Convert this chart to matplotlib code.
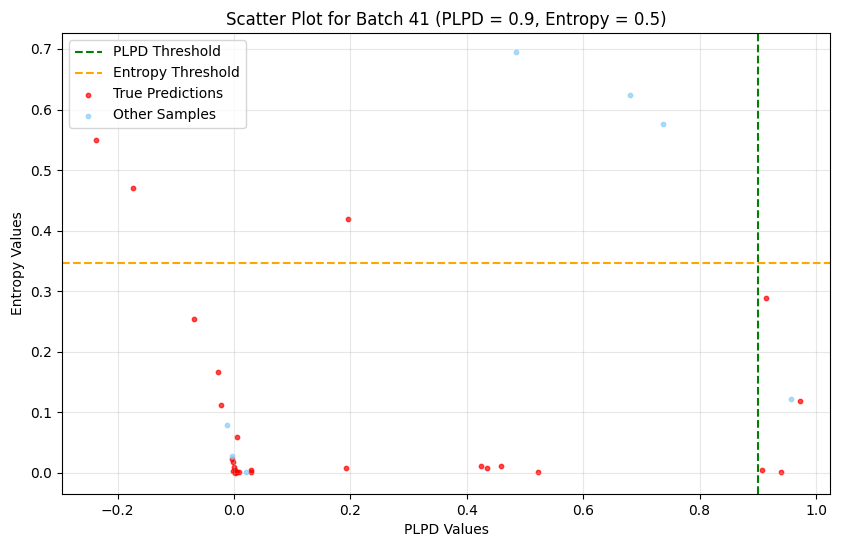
import matplotlib
matplotlib.use("Agg")
import matplotlib.pyplot as plt
import numpy as np

plpd_threshold = 0.9
entropy_threshold = 0.5 * np.log(2)

true_plpd = [-0.237, -0.1735, -0.0687, -0.0275, -0.0223, 0.0057, -0.003, -0.002,
             0.0, 0.001, 0.003, 0.005, -0.001, 0.002, 0.008, 0.030, 0.029,
             0.196, 0.1924, 0.4244, 0.4347, 0.4588, 0.522, 0.914, 0.907, 0.940, 0.9725]
true_entropy = [0.550, 0.4705, 0.254, 0.1667, 0.112, 0.059, 0.023, 0.018,
                0.010, 0.005, 0.002, 0.001, 0.003, 0.0005, 0.002, 0.0055, 0.002,
                0.419, 0.0083, 0.0116, 0.0083, 0.0116, 0.0017, 0.289, 0.005, 0.0017, 0.119]

other_plpd = [0.4845, 0.680, 0.7365, 0.957, -0.0115, -0.003, 0.020]
other_entropy = [0.695, 0.624, 0.576, 0.122, 0.079, 0.028, 0.001]

fig = plt.figure(figsize=(8.46, 5.47), dpi=100)
ax = fig.add_axes([62/846, 1-494/547, (830-62)/846, (494-33)/547])

ax.axvline(plpd_threshold, color='green', linestyle='--', label='PLPD Threshold')
ax.axhline(entropy_threshold, color='orange', linestyle='--', label='Entropy Threshold')
ax.scatter(true_plpd, true_entropy, color='red', s=10, alpha=0.7, label='True Predictions')
ax.scatter(other_plpd, other_entropy, color='lightskyblue', s=10, alpha=0.7, label='Other Samples')

ax.set_xlim(-0.2955, 1.024)
ax.set_ylim(-0.0347, 0.7264)
ax.set_title('Scatter Plot for Batch 41 (PLPD = 0.9, Entropy = 0.5)')
ax.set_xlabel('PLPD Values')
ax.set_ylabel('Entropy Values')
ax.grid(True, alpha=0.3)
ax.legend(loc='upper left')

fig.savefig('out.png', dpi=100)
